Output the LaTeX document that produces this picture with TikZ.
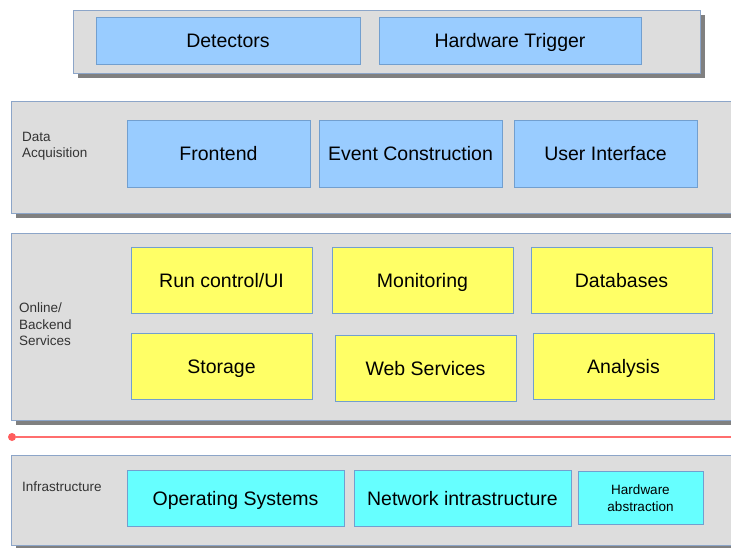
\documentclass[tikz,border=0pt]{standalone}
\usepackage{fontspec}
\setmainfont{Liberation Sans}
\definecolor{layergray}{RGB}{221,221,221}
\definecolor{layerline}{RGB}{140,165,200}
\definecolor{shadowgray}{RGB}{128,128,128}
\definecolor{daqblue}{RGB}{153,204,255}
\definecolor{boxline}{RGB}{114,159,207}
\definecolor{svcyellow}{RGB}{255,255,102}
\definecolor{infracyan}{RGB}{102,255,255}
\definecolor{linered}{RGB}{255,110,110}
\usetikzlibrary{positioning,shadows}

\tikzset{
  layer/.style={draw=layerline, line width=0.8pt, fill=layergray, anchor=north west,
    inner sep=0pt, drop shadow={shadow xshift=5pt, shadow yshift=-5pt, fill=shadowgray, opacity=1}},
  layerlabel/.style={anchor=north west, inner sep=0pt, align=left, text=black!80,
    font=\fontsize{13.5}{16.5}\selectfont},
  box/.style={draw=boxline, line width=0.8pt, inner sep=0pt, outer sep=0pt, align=center,
    font=\fontsize{19.5}{22}\selectfont},
  oneline/.style={text height=14pt, text depth=0pt},
  daq/.style={box, oneline, fill=daqblue},
  svc/.style={box, oneline, fill=svcyellow, minimum width=181pt, minimum height=66pt},
  infra/.style={box, oneline, fill=infracyan, minimum height=56pt}
}

\begin{document}
\begin{tikzpicture}[x=1pt,y=-1pt]
  \useasboundingbox (0,0) rectangle (731,547);

  % layers
  \node [layer, minimum width=627pt, minimum height=63pt] (top) at (73,10) {};
  \node [layer, minimum width=740pt, minimum height=112pt] (daqlayer) at (11,101) {};
  \node [layer, minimum width=740pt, minimum height=187pt] (svclayer) at (11,233) {};
  \node [layer, minimum width=740pt, minimum height=90pt] (infralayer) at (11,455) {};

  \node [layerlabel] (daqlabel) at (22,132) {Data\\Acquisition};
  \node [layerlabel] (svclabel) at (19,303) {Online/\\Backend\\Services};
  \node [layerlabel] (infralabel) at (22,482) {Infrastructure};

  % top row
  \node [daq, anchor=north west, minimum width=264pt, minimum height=47pt] (det) at (96,17) {Detectors};
  \node [daq, minimum width=262pt, minimum height=47pt, right=19pt of det] (trig) {Hardware Trigger};

  % data acquisition
  \node [daq, anchor=north west, minimum width=183pt, minimum height=67pt] (fe) at (127,120) {Frontend};
  \node [daq, minimum width=183pt, minimum height=67pt, right=9pt of fe] (evb) {Event Construction};
  \node [daq, minimum width=183pt, minimum height=67pt, right=12pt of evb] (ui) {User Interface};

  % online / backend services
  \node [svc, anchor=north west] (rc) at (131,247) {Run control/UI};
  \node [svc, right=20pt of rc] (mon) {Monitoring};
  \node [svc, right=18pt of mon] (db) {Databases};
  \node [svc, anchor=north west] (stor) at (131,333) {Storage};
  \node [svc, right=23pt of stor, yshift=-2pt] (web) {Web Services};
  \node [svc, right=17pt of web, yshift=2pt] (ana) {Analysis};

  % separator
  \node [circle, fill=linered!85!red, inner sep=0pt, minimum size=8pt] (dot) at (12,437) {};
  \coordinate (lineend) at (740,437);
  \draw [linered, line width=1.5pt] (dot) -- (lineend);

  % infrastructure
  \node [infra, anchor=north west, minimum width=217pt] (os) at (127,470) {Operating Systems};
  \node [infra, minimum width=217pt, right=10pt of os] (net) {Network intrastructure};
  \node [box, fill=infracyan, minimum width=125pt, minimum height=53pt, right=7pt of net,
    font=\fontsize{13.5}{16.5}\selectfont] (hw) {Hardware\\abstraction};
\end{tikzpicture}
\end{document}
